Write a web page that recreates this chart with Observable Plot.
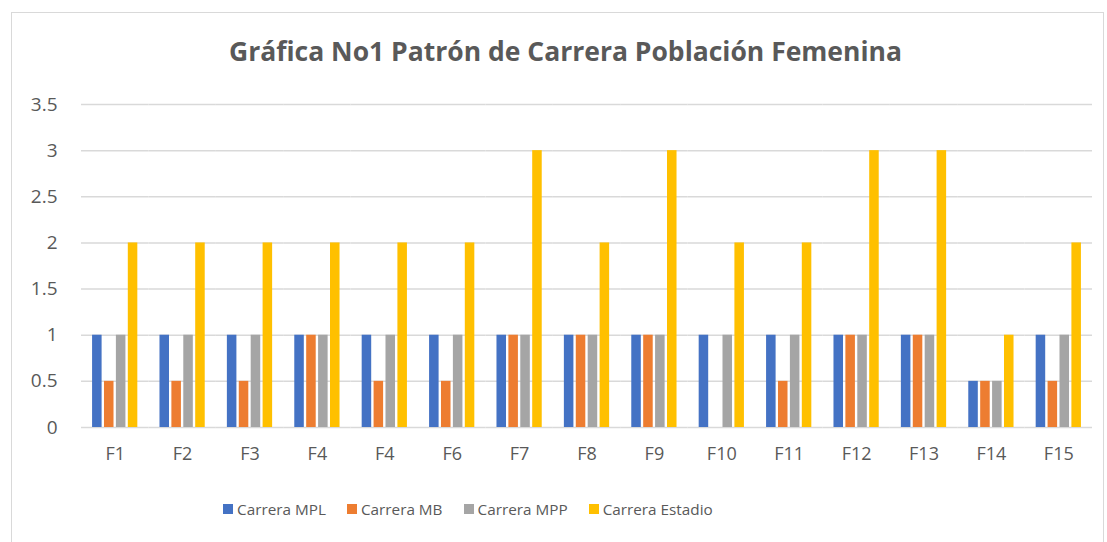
<!DOCTYPE html>
<html>
<head>
<meta charset="utf-8">
<script src="https://cdn.jsdelivr.net/npm/d3@7"></script>
<script src="https://cdn.jsdelivr.net/npm/@observablehq/plot@0.6"></script>
<style>
  html, body { margin: 0; padding: 0; background: #fff; }
  body { width: 1107px; height: 542px; position: relative; overflow: hidden; font-family: "Open Sans", sans-serif; }
  #frame { position: absolute; left: 11px; top: 12px; width: 1093px; height: 560px; border: 1px solid #d9d9d9; box-sizing: border-box; }
  #title { position: absolute; left: 12px; top: 33px; width: 1107px; text-align: center; font-size: 26.5px; font-weight: bold; color: #595959; letter-spacing: 0px; }
  #chart { position: absolute; left: 0; top: 80px; }
  #legend { position: absolute; top: 499px; left: 223px; display: flex; gap: 21px; font-size: 15.3px; color: #595959; }
  .item { display: flex; align-items: center; }
  .sw { width: 10px; height: 10px; margin-right: 4px; }
</style>
</head>
<body>
<div id="frame"></div>
<div id="title">Gráfica No1 Patrón de Carrera Población Femenina</div>
<div id="chart"></div>
<div id="legend"></div>
<script>
const categories = ["F1","F2","F3","F4","F4","F6","F7","F8","F9","F10","F11","F12","F13","F14","F15"];
const seriesNames = ["Carrera MPL","Carrera MB","Carrera MPP","Carrera Estadio"];
const seriesColors = ["#4472C4","#ED7D31","#A5A5A5","#FFC000"];
const carreraMPL     = [1,1,1,1,1,1,1,1,1,1,1,1,1,0.5,1];
const carreraMB      = [0.5,0.5,0.5,1,0.5,0.5,1,1,1,0,0.5,1,1,0.5,0.5];
const carreraMPP     = [1,1,1,1,1,1,1,1,1,1,1,1,1,0.5,1];
const carreraEstadio = [2,2,2,2,2,2,3,2,3,2,2,3,3,1,2];
const yTicks = [0,0.5,1,1.5,2,2.5,3,3.5];

const seriesValues = [carreraMPL, carreraMB, carreraMPP, carreraEstadio];
const data = [];
categories.forEach((c, i) => {
  seriesNames.forEach((s, k) => {
    data.push({idx: i, series: s, value: seriesValues[k][i]});
  });
});

const textColor = "#595959";
const chart = Plot.plot({
  width: 1107,
  height: 392,
  marginLeft: 81,
  marginRight: 15,
  marginTop: 24,
  marginBottom: 45,
  style: {fontFamily: "Open Sans, sans-serif", fontSize: "17px", color: textColor, background: "transparent"},
  fx: {domain: d3.range(categories.length), paddingInner: 0, paddingOuter: 0, round: false, label: null},
  x: {domain: seriesNames, paddingInner: 0.2, paddingOuter: 0.93, round: false, axis: null},
  y: {domain: [0, 3.5], label: null},
  color: {domain: seriesNames, range: seriesColors},
  marks: [
    Plot.gridY(yTicks, {stroke: "#d9d9d9", strokeOpacity: 1, strokeWidth: 1.5}),
    Plot.barY(data, {fx: "idx", x: "series", y: "value", fill: "series"}),
    Plot.axisY(yTicks, {tickSize: 0, tickPadding: 24, tickFormat: d => String(d), fill: textColor, fontSize: 19}),
    Plot.axisFx({anchor: "bottom", tickSize: 0, tickPadding: 20, tickFormat: i => categories[i], fill: textColor, fontSize: 18, label: null})
  ]
});
document.getElementById("chart").appendChild(chart);

const legend = document.getElementById("legend");
seriesNames.forEach((s, k) => {
  const it = document.createElement("div");
  it.className = "item";
  const sw = document.createElement("span");
  sw.className = "sw";
  sw.style.background = seriesColors[k];
  const tx = document.createElement("span");
  tx.textContent = s;
  it.appendChild(sw); it.appendChild(tx);
  legend.appendChild(it);
});
</script>
</body>
</html>
